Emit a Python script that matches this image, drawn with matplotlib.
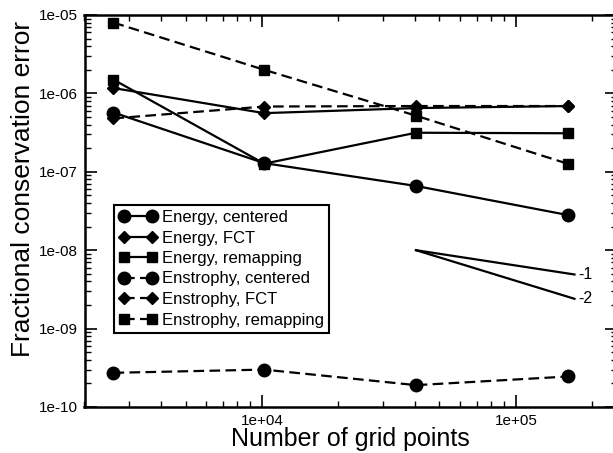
import matplotlib
matplotlib.use('Agg')
import matplotlib.pyplot as plt
from matplotlib.ticker import LogLocator, FuncFormatter, NullFormatter

plt.rcParams['font.family'] = ['Liberation Sans', 'DejaVu Sans']

# ---- data ----
grid_points = [2601, 10201, 40401, 160801]
energy_centered = [5.7e-7, 1.29e-7, 6.6e-8, 2.8e-8]
energy_fct = [1.17e-6, 5.6e-7, 6.5e-7, 6.9e-7]
energy_remap = [1.5e-6, 1.27e-7, 3.15e-7, 3.1e-7]
enst_centered = [2.73e-10, 3.0e-10, 1.9e-10, 2.45e-10]
enst_fct = [4.8e-7, 6.8e-7, 6.9e-7, 6.9e-7]
enst_remap = [8.0e-6, 2.0e-6, 5.2e-7, 1.26e-7]
series_labels = ["Energy, centered", "Energy, FCT", "Energy, remapping",
                 "Enstrophy, centered", "Enstrophy, FCT", "Enstrophy, remapping"]
slope_x = [40401, 170000]
slope1_y = [1e-8, 4.9e-9]
slope2_y = [1e-8, 2.4e-9]
slope_labels = ["-1", "-2"]
slope_label_x = 176000
slope_label_y = [4.9e-9, 2.4e-9]

W, H = 613, 453
fig = plt.figure(figsize=(W / 100, H / 100), dpi=100)
ax = fig.add_axes([84.5 / W, (H - 407) / H, (617 - 84.5) / W, (407 - 15) / H])
ax.set_xscale('log')
ax.set_yscale('log')

lw = 1.6
dash = (4.8, 2.4)
styles = [
    (energy_centered, 'o', 9.0, None),
    (energy_fct, 'D', 6.2, None),
    (energy_remap, 's', 7.7, None),
    (enst_centered, 'o', 9.0, dash),
    (enst_fct, 'D', 6.2, dash),
    (enst_remap, 's', 7.7, dash),
]
handles = []
for (vals, mk, ms, ds), lab in zip(styles, series_labels):
    kw = dict(color='k', lw=lw, marker=mk, ms=ms, mfc='k', mec='k', label=lab)
    if ds is not None:
        kw['dashes'] = ds
    h, = ax.plot(grid_points, vals, **kw)
    handles.append(h)

ax.plot(slope_x, slope1_y, color='k', lw=lw)
ax.plot(slope_x, slope2_y, color='k', lw=lw)
for lab, yv in zip(slope_labels, slope_label_y):
    ax.text(slope_label_x, yv, lab, fontsize=11.5, ha='left', va='center')

ax.set_xlim(2000, 2.5e5)
ax.set_ylim(1e-10, 1e-5)

fmt = FuncFormatter(lambda v, p: f"{v:.0e}")
ax.xaxis.set_major_locator(LogLocator(base=10))
ax.yaxis.set_major_locator(LogLocator(base=10))
ax.xaxis.set_minor_locator(LogLocator(base=10, subs=range(2, 10), numticks=20))
ax.yaxis.set_minor_locator(LogLocator(base=10, subs=range(2, 10), numticks=20))
ax.xaxis.set_major_formatter(fmt)
ax.yaxis.set_major_formatter(fmt)
ax.xaxis.set_minor_formatter(NullFormatter())
ax.yaxis.set_minor_formatter(NullFormatter())

ax.tick_params(which='both', direction='in', top=True, right=True, labelsize=11)
ax.tick_params(which='major', length=8.5, width=1.2, pad=5)
ax.tick_params(which='minor', length=4.5, width=1.0)
for sp in ax.spines.values():
    sp.set_linewidth(1.8)

ax.set_xlabel("Number of grid points", fontsize=18)
ax.xaxis.label.set_va('baseline')
ax.xaxis.set_label_coords(0.5, (407 - 446) / 392)
ax.set_ylabel("Fractional conservation error", fontsize=19)
ax.yaxis.set_label_coords((35 - 84.5) / 532.5, (407 - 189) / 392)

leg = ax.legend(handles=handles, loc='upper left', numpoints=2,
                bbox_to_anchor=(114 / W, (H - 205) / H), bbox_transform=fig.transFigure,
                borderaxespad=0, fontsize=12, labelspacing=0.33, handlelength=2.3,
                handletextpad=0.3, borderpad=0.3, fancybox=False, framealpha=1)
leg.get_frame().set_edgecolor('k')
leg.get_frame().set_linewidth(1.5)

fig.savefig('out.png', dpi=100)
